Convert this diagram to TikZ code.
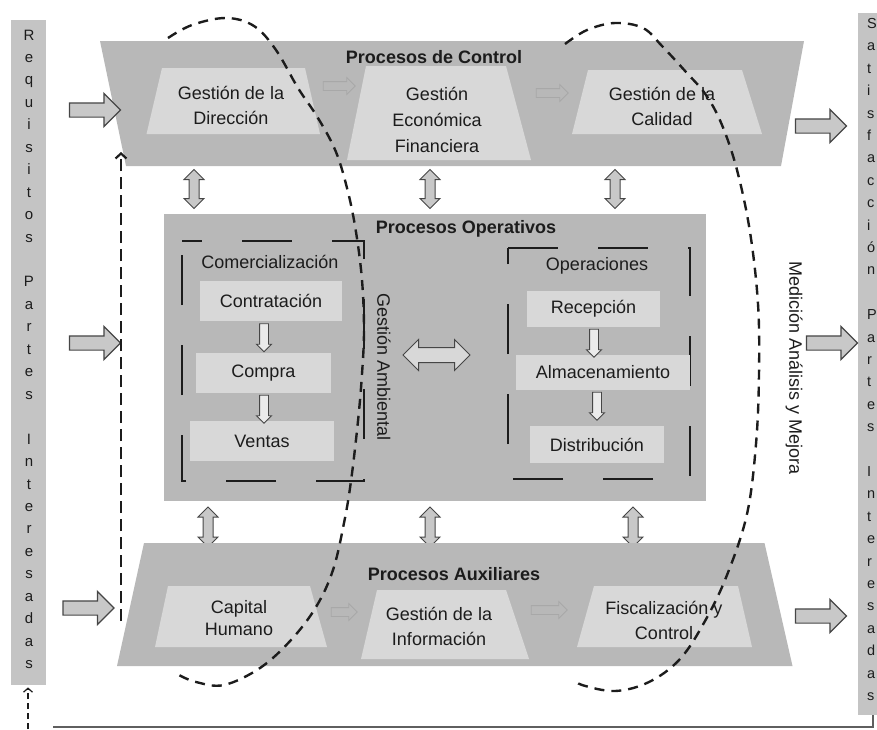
\documentclass[tikz,border=0pt]{standalone}
\usepackage{fontspec}
\setmainfont{Liberation Sans}
\usetikzlibrary{shapes.arrows,arrows.meta}
\definecolor{bigfill}{RGB}{184,184,184}
\definecolor{subfill}{RGB}{216,216,216}
\definecolor{barfill}{RGB}{196,196,196}
\definecolor{ink}{RGB}{28,28,28}
\definecolor{arrline}{RGB}{70,70,70}
\definecolor{arrfill}{RGB}{200,200,200}
\definecolor{faint}{RGB}{168,168,168}
\definecolor{fbgray}{RGB}{95,95,95}
\tikzset{
  txt/.style={font=\fontsize{18}{25}\selectfont, text=ink, align=center, inner sep=0pt},
  ttl/.style={font=\bfseries\fontsize{18}{25}\selectfont, text=ink, inner sep=0pt},
  barltr/.style={font=\fontsize{15}{16}\selectfont, text=ink, inner sep=0pt, anchor=base},
  rbarltr/.style={font=\fontsize{14.5}{16}\selectfont, text=ink, inner sep=0pt, anchor=base west},
  bar/.style={fill=barfill, inner sep=0pt, anchor=north west},
  subbox/.style={fill=subfill, inner sep=0pt, txt},
  bigarrow/.style={single arrow, draw=arrline, fill=arrfill, line width=1.2pt, inner xsep=0pt, inner ysep=6.5pt, single arrow head extend=9.5pt, minimum height=51pt, minimum width=0pt},
  vdarrow/.style={double arrow, rotate=90, draw=arrline, fill=arrfill, line width=1pt, inner xsep=0pt, inner ysep=4.5pt, double arrow head extend=5pt, minimum height=39pt, minimum width=0pt},
  hdarrow/.style={double arrow, draw=arrline, fill=subfill, line width=1pt, inner xsep=0pt, inner ysep=7pt, double arrow head extend=8pt, minimum height=67pt, minimum width=0pt},
  downarrow/.style={single arrow, rotate=-90, draw=arrline, fill=white!92!black, line width=0.9pt, inner xsep=0pt, inner ysep=4pt, single arrow head extend=3pt, minimum height=28pt, minimum width=0pt},
  faintarrow/.style={single arrow, draw=faint, line width=0.8pt, inner xsep=0pt, inner ysep=4pt, single arrow head extend=4pt, minimum height=32pt, minimum width=0pt},
  dbox/.style={draw=ink, line width=1.4pt, dash pattern=on 50pt off 40pt, dash phase=30pt},
  loopline/.style={draw=ink, line width=2.4pt, dash pattern=on 10pt off 7pt},
  fbdash/.style={draw=ink, line width=2.2pt, dash pattern=on 12pt off 6pt},
}
\begin{document}
\begin{tikzpicture}[x=1pt,y=-1pt]
\useasboundingbox (0,0) rectangle (877,729);
\clip (0,0) rectangle (877,729);

% side bars
\node[bar, minimum width=35pt, minimum height=665pt] (lbar) at (11,20) {};
\node[bar, minimum width=40pt, minimum height=702pt] (rbar) at (858,13) {};
\foreach \c [count=\i from 0] in {R,e,q,u,i,s,i,t,o,s}
  \node[barltr] (la\i) at (29,{40+22.45*\i}) {\c};
\foreach \c [count=\i from 11] in {P,a,r,t,e,s}
  \node[barltr] (lb\i) at (29,{40+22.45*\i}) {\c};
\foreach \c [count=\i from 18] in {I,n,t,e,r,e,s,a,d,a,s}
  \node[barltr] (lc\i) at (29,{40+22.45*\i}) {\c};
\foreach \c [count=\i from 0] in {S,a,t,i,s,f,a,c,c,i,ó,n}
  \node[rbarltr] (ra\i) at (867,{28.4+22.4*\i}) {\c};
\foreach \c [count=\i from 13] in {P,a,r,t,e,s}
  \node[rbarltr] (rb\i) at (867,{28.4+22.4*\i}) {\c};
\foreach \c [count=\i from 20] in {I,n,t,e,r,e,s,a,d,a,s}
  \node[rbarltr] (rc\i) at (867,{28.4+22.4*\i}) {\c};

% top trapezium: Procesos de Control
\fill[bigfill] (100,41) -- (804,41) -- (781,166) -- (126,166) -- cycle;
\node[ttl] (pctl) at (434,57) {Procesos de Control};
\fill[subfill] (162,68) -- (305,68) -- (320,134) -- (146.5,134) -- cycle;
\fill[subfill] (366,66) -- (506,66) -- (531,160) -- (347,160) -- cycle;
\fill[subfill] (588,70) -- (742,70) -- (762,134) -- (572,134) -- cycle;
\node[txt] (gdir) at (231,105) {Gestión de la\\Dirección};
\node[txt, font=\fontsize{18}{26}\selectfont] (geco) at (437,120) {Gestión\\Económica\\Financiera};
\node[txt] (gcal) at (662,106) {Gestión de la\\Calidad};
\node[faintarrow] (fa1) at (337,86) {};
\node[faintarrow] (fa2) at (550,93) {};

% middle box: Procesos Operativos
\node[fill=bigfill, inner sep=0pt, anchor=north west, minimum width=542pt, minimum height=287pt] (ops) at (164,214) {};
\node[ttl] (pops) at (466,229) {Procesos Operativos};
\draw[dbox] (182,241) -- (364,241) -- (364,481) -- (182,481) -- cycle;
\draw[dbox, dash phase=0pt] (508,248) -- (690,248) -- (690,479) -- (508,479) -- cycle;
\node[txt] (comer) at (270,262) {Comercialización};
\node[subbox, minimum width=142pt, minimum height=40pt] (contr) at (271,301) {Contratación};
\node[subbox, minimum width=135pt, minimum height=40pt] (compra) at (263.5,373) {Compra};
\node[subbox, minimum width=144pt, minimum height=40pt] (ventas) at (262,441) {Ventas};
\node[downarrow] (d1) at (264,335.5) {};
\node[downarrow] (d2) at (264,407) {};
\node[txt] (oper) at (597,266) {Operaciones};
\node[subbox, minimum width=133pt, minimum height=36pt] (recep) at (593.5,309) {Recepción};
\node[subbox, minimum width=174pt, minimum height=35pt] (almac) at (603,372.5) {Almacenamiento};
\node[subbox, minimum width=134pt, minimum height=37pt] (distr) at (597,444.5) {Distribución};
\node[downarrow] (d3) at (594,341) {};
\node[downarrow] (d4) at (597,404) {};
\node[txt, rotate=-90] (gamb) at (384,367) {Gestión Ambiental};
\node[hdarrow] (hx) at (436.5,355) {};

% vertical double arrows
\node[vdarrow] (v1) at (194,189) {};
\node[vdarrow] (v2) at (430,189) {};
\node[vdarrow] (v3) at (615,189) {};
\node[vdarrow, minimum height=40pt] (v4) at (208,527) {};
\node[vdarrow, minimum height=40pt] (v5) at (430,527) {};
\node[vdarrow, minimum height=40pt] (v6) at (633,527) {};

% bottom trapezium: Procesos Auxiliares
\fill[bigfill] (144,543) -- (764.5,543) -- (792.5,666) -- (117,666) -- cycle;
\node[ttl] (paux) at (454,574) {Procesos Auxiliares};
\fill[subfill] (168,586) -- (310,586) -- (327,647) -- (155,647) -- cycle;
\fill[subfill] (377,590) -- (506,590) -- (529,659) -- (361,659) -- cycle;
\fill[subfill] (594,586) -- (738,586) -- (752,647) -- (577,647) -- cycle;
\node[txt, font=\fontsize{18}{22}\selectfont] (cap) at (239,618) {Capital\\Humano};
\node[txt, font=\fontsize{18}{25}\selectfont] (ginf) at (439,626) {Gestión de la\\Información};
\node[txt, font=\fontsize{18}{25}\selectfont] (fisc) at (664,620) {Fiscalización y\\Control};
\node[faintarrow, minimum height=26pt] (fa3) at (342,612) {};
\node[faintarrow, minimum height=36pt] (fa4) at (547,610) {};

% side block arrows
\node[bigarrow] (al1) at (91.5,110) {};
\node[bigarrow] (al2) at (91.5,343) {};
\node[bigarrow] (al3) at (85,608) {};
\node[bigarrow] (ar1) at (817.5,126) {};
\node[bigarrow] (ar2) at (828.5,343) {};
\node[bigarrow] (ar3) at (817.5,616) {};

\node[txt, rotate=-90] (mam) at (794,368) {Medición Análisis y Mejora};

% feedback lines
\coordinate (fbR) at (873,715);
\coordinate (fbL) at (53,727);
\draw[fbgray, line width=1.2pt] (fbR) |- (fbL);
\coordinate (fbB) at (28,729);
\draw[ink, line width=1.2pt, dash pattern=on 6pt off 4pt, shorten >=2pt, -{Straight Barb[length=4pt,width=9pt]}] (fbB) -- (fbB |- lbar.south);
\coordinate (da0) at (121,621);
\coordinate (da1) at (121,152);
\draw[fbdash, -{Straight Barb[length=5pt,width=11pt]}] (da0) -- (da1);

% dashed loops
\draw[loopline] plot[smooth, tension=0.6] coordinates {(168,38) (192,25) (226,18) (254,26) (276,50) (298,88) (318,118) (336,152) (348,192) (356,232) (362,280) (364,330) (362,374) (358,421) (351,481) (344,523) (333,570) (316,607) (291,640) (260,668) (224,685) (196,682) (179,675)};
\draw[loopline] plot[smooth, tension=0.6] coordinates {(565,44) (587,30) (615,23) (643,28) (662,46) (686,72) (706,95) (722,125) (737,170) (750,232) (758,304) (759,374) (756,444) (747,514) (727,575) (705,621) (680,659) (649,682) (615,691) (582,685) (576,680)};
\end{tikzpicture}
\end{document}
